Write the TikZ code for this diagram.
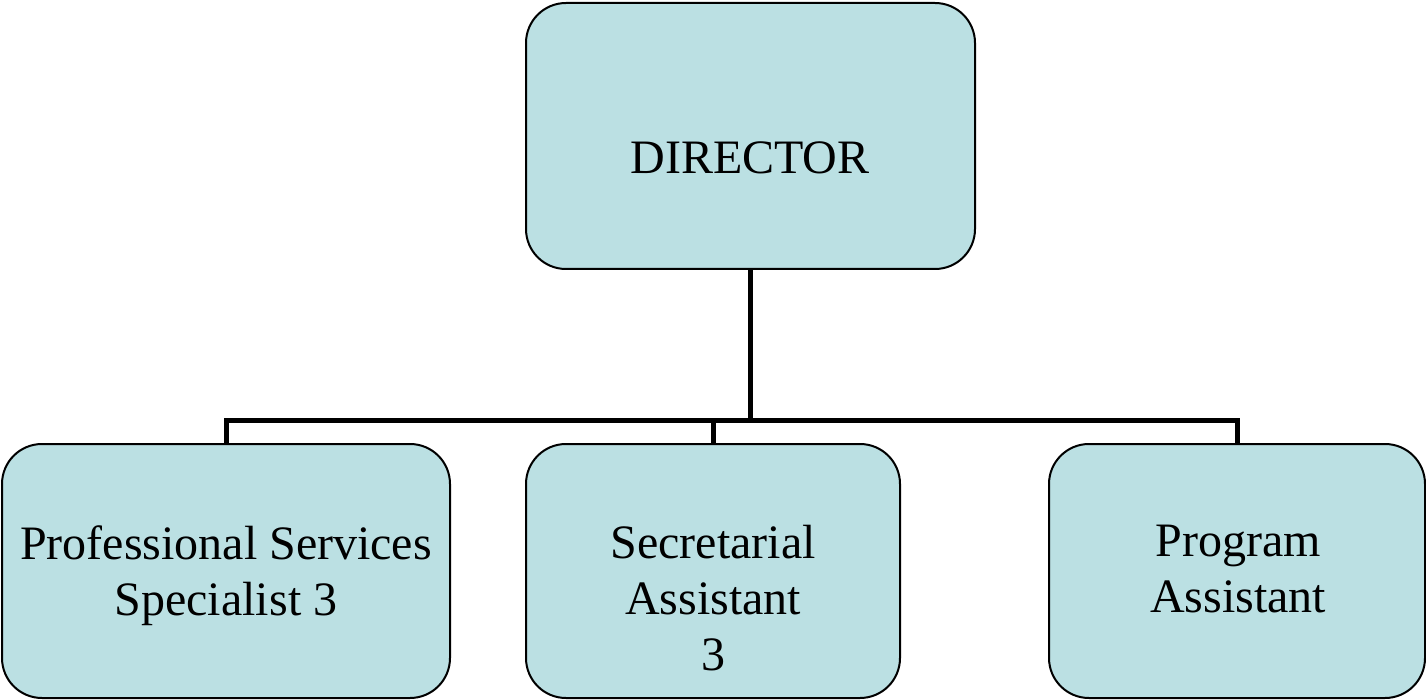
\documentclass[tikz,border=0pt]{standalone}
\usepackage{fontspec}
\setmainfont{Liberation Serif}
\definecolor{boxfill}{HTML}{BBE0E3}
\begin{document}
\begin{tikzpicture}[x=1pt,y=-1pt,
  orgbox/.style={draw=black, line width=2pt, fill=boxfill, rounded corners=40pt,
    inner sep=0pt, outer sep=0pt},
  conn/.style={draw=black, line width=5pt, line join=miter},
  lbl/.style={inner sep=0pt, align=center, font=\fontsize{48}{56}\selectfont}]
\useasboundingbox (0,0) rectangle (1426,700);
\node[orgbox, minimum width=449pt, minimum height=266pt] (dir) at (750.5,136) {};
\node[orgbox, minimum width=448pt, minimum height=254pt] (c1) at (226,571) {};
\node[orgbox, minimum width=374pt, minimum height=254pt] (c2) at (713,571) {};
\node[orgbox, minimum width=376pt, minimum height=254pt] (c3) at (1237,571) {};
\node[lbl, anchor=base] (tdir) at (750,174) {DIRECTOR};
\node[lbl, anchor=north] (t1) at (226,525) {Professional Services\\Specialist 3};
\node[lbl, anchor=north] (t2) at (713,525) {Secretarial\\Assistant\\3};
\node[lbl, anchor=north] (t3) at (1238,525) {Program\\Assistant};
\coordinate (bus) at (0,420);
\draw[conn] (dir.south) -- (dir.south |- bus) -| (c1.north);
\draw[conn] (dir.south |- bus) -| (c2.north);
\draw[conn] (dir.south |- bus) -| (c3.north);
\end{tikzpicture}
\end{document}
